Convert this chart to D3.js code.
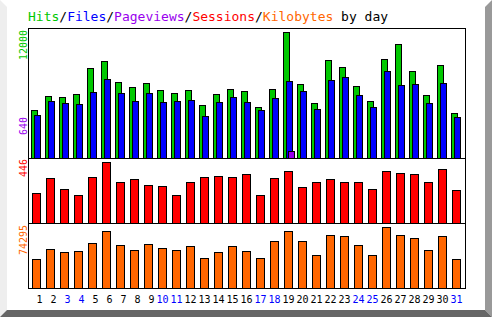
<!DOCTYPE html>
<html>
<head>
<meta charset="utf-8">
<script src="https://cdn.jsdelivr.net/npm/d3@7"></script>
<style>
  html, body { margin: 0; padding: 0; background: #ffffff; }
  svg { display: block; }
  text { font-family: "DejaVu Sans Mono", monospace; }
</style>
</head>
<body>
<div id="chart"></div>
<script>
// daily values
const days = d3.range(1, 32);
const weekendDays = [3, 4, 10, 11, 17, 18, 24, 25, 31];

const hits = [4570, 5880, 5850, 6070, 8540, 9210, 7210, 6730, 7110, 6450,
              6190, 6450, 5050, 6100, 6570, 6380, 4860, 6570, 12000, 7050,
              5240, 9330, 8670, 6860, 5430, 9430, 10860, 8290, 6000, 8860, 4290];
const files = [4100, 5430, 5240, 5140, 6290, 7500, 6190, 5430, 6190, 5330,
               5430, 5520, 4000, 5330, 5810, 5330, 4570, 5710, 7330, 6380,
               4670, 7430, 7710, 6000, 4860, 8290, 6950, 7050, 5240, 7140, 3900];
const pageviews = [0, 0, 0, 0, 0, 0, 0, 0, 0, 0,
                   0, 0, 0, 0, 0, 0, 0, 0, 640, 0,
                   0, 0, 0, 0, 0, 0, 0, 0, 0, 0, 0];
const sessions = [219, 329, 249, 205, 336, 446, 300, 322, 278, 271,
                  205, 300, 336, 344, 336, 358, 205, 329, 380, 263,
                  300, 322, 300, 300, 249, 380, 366, 358, 300, 395, 241];
const kilobytes = [35300, 47500, 43800, 45100, 54800, 69800, 52400, 46300, 53600, 48700,
                   46300, 51200, 36500, 43800, 51200, 45100, 36500, 57200, 69400, 57200,
                   40200, 64600, 63300, 52400, 40200, 74295, 64600, 60900, 46300, 63300, 35300];

const W = 492, H = 317;
const colors = {
    hits: "#00c800",
    files: "#0000ff",
    pages: "#9900ee",
    sessions: "#ff0000",
    kb: "#ff6600"
};

const svg = d3.select("#chart").append("svg")
    .attr("width", W)
    .attr("height", H);

// 3d frame around the image
svg.append("polygon").attr("points", "0,0 7,7 7,310 0,317").attr("fill", "#eeeeee");
svg.append("polygon").attr("points", "492,0 485,7 485,310 492,317").attr("fill", "#999999");
svg.append("polygon").attr("points", "0,317 7,310 485,310 492,317").attr("fill", "#666666");

// title
const title = svg.append("text")
    .attr("x", 28)
    .attr("y", 21)
    .attr("font-size", 13)
    .attr("xml:space", "preserve");
[["Hits", colors.hits], ["/", "#000"], ["Files", colors.files], ["/", "#000"],
 ["Pageviews", colors.pages], ["/", "#000"], ["Sessions", colors.sessions], ["/", "#000"],
 ["Kilobytes", colors.kb], [" by day", "#000"]].forEach(([t, c]) => {
    title.append("tspan").attr("fill", c).text(t);
});

// scales
const x = d3.scaleBand().domain(days).range([31, 31 + 31 * 14]).padding(0);
const yTop = d3.scaleLinear().domain([0, d3.max(hits)]).range([158, 32]);
const ySes = d3.scaleLinear().domain([0, d3.max(sessions)]).range([223, 162]);
const yKb = d3.scaleLinear().domain([0, d3.max(kilobytes)]).range([288, 227]);

function bars(values, y, base, offset, width, fill) {
    svg.append("g").selectAll("rect")
        .data(days.filter((d, i) => Math.round(base - y(values[i])) >= 1))
        .join("rect")
        .attr("x", d => x(d) + offset + 0.5)
        .attr("y", d => Math.round(y(values[d - 1])) + 0.5)
        .attr("width", width)
        .attr("height", d => base - Math.round(y(values[d - 1])))
        .attr("fill", fill)
        .attr("stroke", "#000")
        .attr("stroke-width", 1);
}

bars(hits, yTop, 158, 0, 6, colors.hits);
bars(files, yTop, 158, 3, 6, colors.files);
bars(pageviews, yTop, 158, 5, 6, colors.pages);
bars(sessions, ySes, 223, 1, 8, colors.sessions);
bars(kilobytes, yKb, 288, 1, 8, colors.kb);

// panel frame
const frame = svg.append("g").attr("stroke", "#000").attr("fill", "none").attr("stroke-width", 1);
frame.append("rect").attr("x", 28.5).attr("y", 28.5).attr("width", 437).attr("height", 260);
frame.append("line").attr("x1", 28).attr("x2", 466).attr("y1", 158.5).attr("y2", 158.5);
frame.append("line").attr("x1", 28).attr("x2", 466).attr("y1", 223.5).attr("y2", 223.5);

// rotated max labels
const maxLabels = [
    { text: d3.max(hits), y: 30, anchor: "end", color: colors.hits },
    { text: d3.max(pageviews), y: 135, anchor: "start", color: colors.pages },
    { text: d3.max(sessions), y: 159, anchor: "end", color: colors.sessions },
    { text: d3.max(kilobytes), y: 225, anchor: "end", color: colors.kb }
];
svg.append("g").selectAll("text")
    .data(maxLabels)
    .join("text")
    .attr("transform", d => `translate(27,${d.y}) rotate(-90)`)
    .attr("text-anchor", d => d.anchor)
    .attr("font-size", 10)
    .attr("fill", d => d.color)
    .text(d => d.text);

// day labels
svg.append("g").selectAll("text")
    .data(days)
    .join("text")
    .attr("x", d => x(d) + (d < 10 ? 8.5 : 5.5))
    .attr("y", 303)
    .attr("text-anchor", "middle")
    .attr("font-size", 10)
    .attr("fill", d => weekendDays.includes(d) ? "#0000ff" : "#000")
    .text(d => d);
</script>
</body>
</html>
